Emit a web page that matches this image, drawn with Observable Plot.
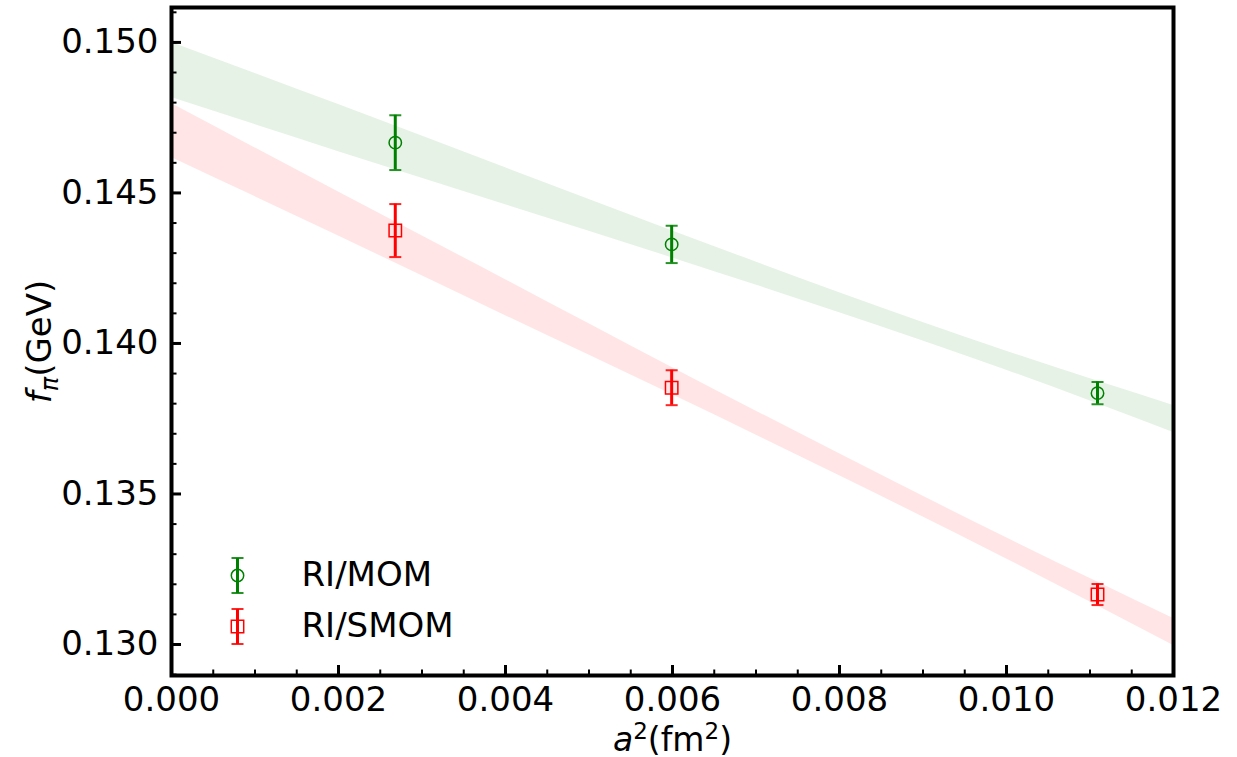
<!DOCTYPE html>
<html><head><meta charset="utf-8">
<script src="https://cdn.jsdelivr.net/npm/d3@7"></script>
<script src="https://cdn.jsdelivr.net/npm/@observablehq/plot@0.6"></script>
<style>body{margin:0;background:#fff}</style>
</head><body><div id="chart"></div>
<script>
// ---- data ----
const a2 = [0.00268, 0.00599, 0.01109];
const momValues = [0.14667, 0.14329, 0.13835];
const momErrors = [0.00091, 0.00062, 0.00037];
const smomValues = [0.14375, 0.13853, 0.13166];
const smomErrors = [0.00088, 0.00058, 0.00035];

const bandX = [0, 0.002, 0.004, 0.006, 0.008, 0.010, 0.012];
const momBandHi = [0.15000, 0.147934, 0.145837, 0.143738, 0.141688, 0.139741, 0.137940];
const momBandLo = [0.148173, 0.146372, 0.144608, 0.142841, 0.141023, 0.139110, 0.137043];
const smomBandHi = [0.147973, 0.145030, 0.142120, 0.139193, 0.136336, 0.133542, 0.130864];
const smomBandLo = [0.146179, 0.143568, 0.140924, 0.138296, 0.135605, 0.132844, 0.129967];

const seriesNames = ["RI/MOM", "RI/SMOM"];
const seriesColors = ["green", "red"];

const xTicks = [0, 0.002, 0.004, 0.006, 0.008, 0.010, 0.012];
const xTickLabels = ["0.000", "0.002", "0.004", "0.006", "0.008", "0.010", "0.012"];
const xMinorTicks = [0,0.0005,0.001,0.0015,0.002,0.0025,0.003,0.0035,0.004,0.0045,0.005,0.0055,0.006,0.0065,0.007,0.0075,0.008,0.0085,0.009,0.0095,0.010,0.0105,0.011,0.0115,0.012];
const yTicks = [0.130, 0.135, 0.140, 0.145, 0.150];
const yTickLabels = ["0.130", "0.135", "0.140", "0.145", "0.150"];
const yMinorTicks = [0.129,0.130,0.131,0.132,0.133,0.134,0.135,0.136,0.137,0.138,0.139,0.140,0.141,0.142,0.143,0.144,0.145,0.146,0.147,0.148,0.149,0.150,0.151];

const xTitle = "a2(fm2)";
const yTitle = "fπ(GeV)";

// ---- tables ----
const mom = a2.map((x, i) => ({x, y: momValues[i], e: momErrors[i]}));
const smom = a2.map((x, i) => ({x, y: smomValues[i], e: smomErrors[i]}));
const momBand = bandX.map((x, i) => ({x, lo: momBandLo[i], hi: momBandHi[i]}));
const smomBand = bandX.map((x, i) => ({x, lo: smomBandLo[i], hi: smomBandHi[i]}));

// custom symbols
const capSymbol = {draw(ctx, size) { const r = Math.sqrt(size / Math.PI); ctx.moveTo(-r, 0); ctx.lineTo(r, 0); }};
const squareSymbol = {draw(ctx, size) { const r = Math.sqrt(size / Math.PI); ctx.rect(-r, -r, 2 * r, 2 * r); }};
const vbarSymbol = {draw(ctx, size) { const r = Math.sqrt(size / Math.PI); ctx.moveTo(0, -r); ctx.lineTo(0, r); }};
const capsSymbol = {draw(ctx, size) { const r = Math.sqrt(size / Math.PI); ctx.moveTo(-6, -r); ctx.lineTo(6, -r); ctx.moveTo(-6, r); ctx.lineTo(6, r); }};

const FS = 34;

function seriesMarks(data, color, symbol, r) {
  return [
    Plot.ruleX(data, {x: "x", y1: d => d.y - d.e, y2: d => d.y + d.e, stroke: color, strokeWidth: 3}),
    Plot.dot(data, {x: "x", y: d => d.y + d.e, symbol: capSymbol, r: 6, stroke: color, strokeWidth: 2, strokeOpacity: 0.85, fill: "none"}),
    Plot.dot(data, {x: "x", y: d => d.y - d.e, symbol: capSymbol, r: 6, stroke: color, strokeWidth: 2, strokeOpacity: 0.85, fill: "none"}),
    Plot.dot(data, {x: "x", y: "y", symbol, r, stroke: color, strokeWidth: 1.5, fill: "none"})
  ];
}

function legendMarks(i, dy, symbol, r) {
  return [
    Plot.dot([0], {frameAnchor: "bottom-left", dx: 66, dy, symbol: vbarSymbol, r: 17.5, stroke: seriesColors[i], strokeWidth: 3, fill: "none"}),
    Plot.dot([0], {frameAnchor: "bottom-left", dx: 66, dy, symbol: capsSymbol, r: 17.5, stroke: seriesColors[i], strokeWidth: 2, strokeOpacity: 0.85, fill: "none"}),
    Plot.dot([0], {frameAnchor: "bottom-left", dx: 66, dy, symbol, r, stroke: seriesColors[i], strokeWidth: 1.5, fill: "none"}),
    Plot.text([seriesNames[i]], {text: d => d, frameAnchor: "bottom-left", dx: 130, dy, textAnchor: "start", lineAnchor: "middle", fontSize: FS, fill: "black"})
  ];
}

const chart = Plot.plot({
  width: 1237,
  height: 757,
  marginLeft: 171,
  marginRight: 64,
  marginTop: 7,
  marginBottom: 82,
  style: {fontFamily: "DejaVu Sans", background: "white", color: "black", overflow: "visible"},
  x: {domain: [0, 0.012]},
  y: {domain: [0.12897, 0.15116]},
  marks: [
    Plot.areaY(momBand, {x: "x", y1: "lo", y2: "hi", fill: "green", fillOpacity: 0.1, curve: "monotone-x"}),
    Plot.areaY(smomBand, {x: "x", y1: "lo", y2: "hi", fill: "red", fillOpacity: 0.1, curve: "monotone-x"}),
    ...seriesMarks(mom, "green", "circle", 6.2),
    ...seriesMarks(smom, "red", squareSymbol, 6.2),
    // axes: labels
    Plot.axisX({ticks: xTicks, tickFormat: d => xTickLabels[xTicks.indexOf(d)], tickSize: 0, tickPadding: 11, fontSize: FS, label: null}),
    Plot.axisY({ticks: yTicks, tickFormat: d => yTickLabels[yTicks.indexOf(d)], tickSize: 0, tickPadding: 13, fontSize: FS, label: null}),
    // inward ticks
    Plot.axisX({ticks: xMinorTicks, tickSize: -5.5, strokeWidth: 2, fill: "none", label: null}),
    Plot.axisX({ticks: xTicks, tickSize: -10, strokeWidth: 3, fill: "none", label: null}),
    Plot.axisY({ticks: yMinorTicks, tickSize: -5.5, strokeWidth: 2, fill: "none", label: null}),
    Plot.axisY({ticks: yTicks, tickSize: -10, strokeWidth: 3, fill: "none", label: null}),
    Plot.frame({stroke: "black", strokeWidth: 4}),
    // legend
    ...legendMarks(0, -100, "circle", 6.2),
    ...legendMarks(1, -49, squareSymbol, 6.2),
    // axis titles
    Plot.text([xTitle], {text: d => d, frameAnchor: "bottom", dy: 64.5, textAnchor: "middle", lineAnchor: "middle", fontSize: 33, fill: "black"}),
    Plot.text([yTitle], {text: d => d, frameAnchor: "left", dx: -131, rotate: -90, textAnchor: "middle", lineAnchor: "middle", fontSize: FS, fill: "black"})
  ]
});

document.getElementById("chart").appendChild(chart);

// rich text (italic, superscript, subscript) for the axis titles
for (const t of chart.querySelectorAll("text")) {
  if (t.textContent === xTitle) {
    t.innerHTML = '<tspan font-style="italic">a</tspan><tspan font-size="23" dy="-12">2</tspan><tspan dy="12">(fm</tspan><tspan font-size="23" dy="-12">2</tspan><tspan dy="12">)</tspan>';
  } else if (t.textContent === yTitle) {
    t.innerHTML = '<tspan font-style="italic">f</tspan><tspan font-style="italic" font-size="24" dy="7">π</tspan><tspan dy="-7">(GeV)</tspan>';
  }
}
</script>
</body></html>
